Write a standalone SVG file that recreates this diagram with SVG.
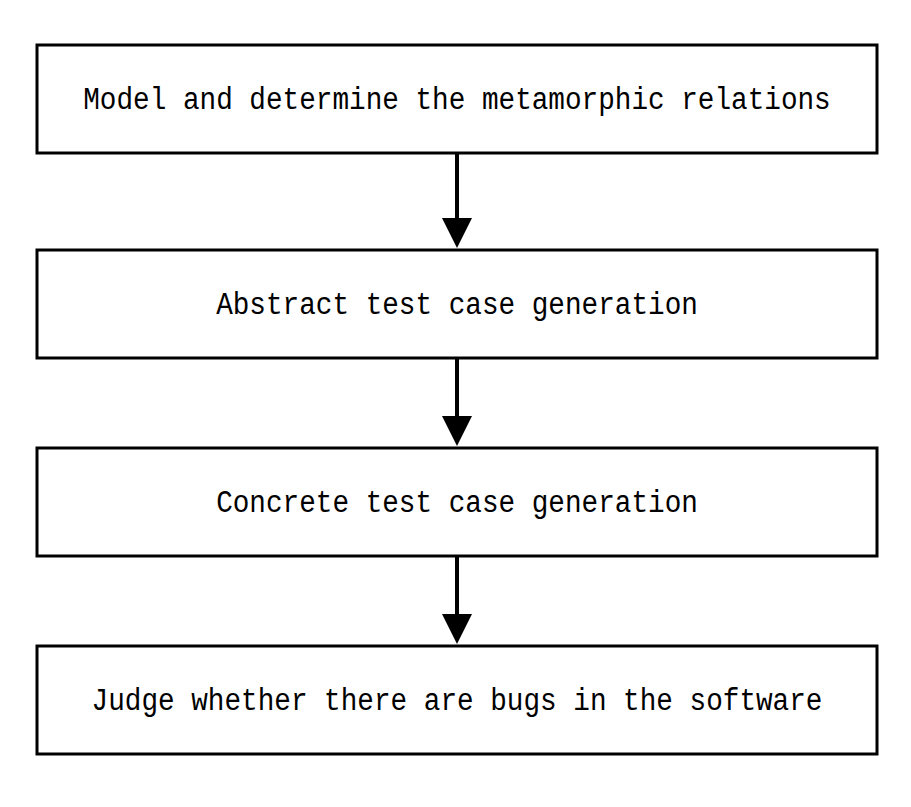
<svg xmlns="http://www.w3.org/2000/svg" width="911" height="807" viewBox="0 0 911 807">
<style>
.box{fill:#fff;stroke:#000;stroke-width:3}
.lbl{font-family:"Liberation Mono","DejaVu Sans Mono",monospace;font-size:27.7px;fill:#000;text-anchor:middle}
.conn{stroke:#000;stroke-width:4;fill:none}
</style>
<defs>
<marker id="ah" markerUnits="userSpaceOnUse" markerWidth="30" markerHeight="30" refX="0" refY="15" orient="auto" viewBox="0 0 30 30">
<path d="M0,0 L30,15 L0,30 Z" fill="#000"/>
</marker>
</defs>
<rect width="911" height="807" fill="#fff"/>
<g id="connectors">
<path class="conn" d="M457,154 V218" marker-end="url(#ah)"/>
<path class="conn" d="M457,359 V416" marker-end="url(#ah)"/>
<path class="conn" d="M457,557 V614" marker-end="url(#ah)"/>
</g>
<g id="n1">
<rect class="box" x="37" y="45" width="840" height="108"/>
<text class="lbl" transform="translate(457,109) scale(1,1.15)">Model and determine the metamorphic relations</text>
</g>
<g id="n2">
<rect class="box" x="37" y="250" width="840" height="108"/>
<text class="lbl" transform="translate(457,314) scale(1,1.15)">Abstract test case generation</text>
</g>
<g id="n3">
<rect class="box" x="37" y="448" width="840" height="108"/>
<text class="lbl" transform="translate(457,512) scale(1,1.15)">Concrete test case generation</text>
</g>
<g id="n4">
<rect class="box" x="37" y="646" width="840" height="108"/>
<text class="lbl" transform="translate(457,710) scale(1,1.15)">Judge whether there are bugs in the software</text>
</g>
</svg>
